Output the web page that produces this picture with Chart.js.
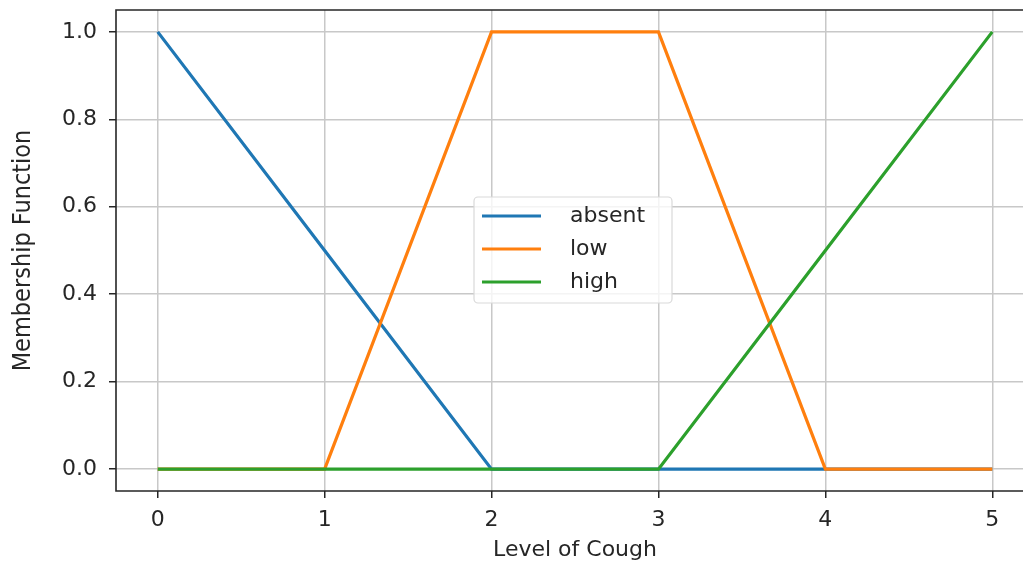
<!DOCTYPE html>
<html>
<head>
<meta charset="utf-8">
<script src="https://cdn.jsdelivr.net/npm/chart.js@4/dist/chart.umd.min.js"></script>
<style>
  html, body { margin: 0; padding: 0; background: #fff; overflow: hidden; }
  #wrap { width: 1060px; height: 563px; }
</style>
</head>
<body>
<div id="wrap"><canvas id="chart_area" width="1060" height="563"></canvas></div>
<script>
// values
const xValues = [0, 1, 2, 3, 4, 5];
const absent = [1, 0.5, 0, 0, 0, 0];
const low = [0, 0, 1, 1, 0, 0];
const high = [0, 0, 0, 0, 0.5, 1];
const xTicks = [0, 1, 2, 3, 4, 5];
const yTicks = [0, 0.2, 0.4, 0.6, 0.8, 1.0];
const seriesNames = ['absent', 'low', 'high'];
const seriesColors = ['#1f77b4', '#ff7f0e', '#2ca02c'];

const toPoints = ys => xValues.map((x, i) => ({ x: x, y: ys[i] }));

// spines (right one is off the picture) + legend in the middle
const framePlugin = {
  id: 'frame',
  afterDraw(chart) {
    const { ctx, chartArea: a } = chart;
    ctx.save();
    ctx.strokeStyle = '#262626';
    ctx.lineWidth = 1.6;
    ctx.beginPath();
    ctx.moveTo(chart.width, a.top);
    ctx.lineTo(a.left, a.top);
    ctx.lineTo(a.left, a.bottom);
    ctx.lineTo(chart.width, a.bottom);
    ctx.stroke();

    // legend
    const bx = 474, by = 197, bw = 198, bh = 106;
    ctx.fillStyle = 'rgba(255,255,255,0.8)';
    ctx.strokeStyle = '#d9d9d9';
    ctx.lineWidth = 1.2;
    ctx.beginPath();
    ctx.roundRect(bx, by, bw, bh, 4);
    ctx.fill();
    ctx.stroke();
    ctx.font = '22px "DejaVu Sans"';
    ctx.textBaseline = 'middle';
    seriesNames.forEach((name, i) => {
      const y = 216 + i * 33;
      ctx.strokeStyle = seriesColors[i];
      ctx.lineWidth = 3;
      ctx.beginPath();
      ctx.moveTo(482, y);
      ctx.lineTo(541, y);
      ctx.stroke();
      ctx.fillStyle = '#262626';
      ctx.fillText(name, 570, y);
    });
    ctx.restore();
  }
};

const ctx = document.getElementById('chart_area').getContext('2d');
const myChart = new Chart(ctx, {
  type: 'line',
  data: {
    datasets: seriesNames.map((name, i) => ({
      label: name,
      data: toPoints([absent, low, high][i]),
      borderColor: seriesColors[i],
      borderWidth: 3.2,
      pointRadius: 0,
      tension: 0,
      fill: false,
      order: 2 - i
    }))
  },
  options: {
    responsive: false,
    animation: false,
    layout: { padding: { left: 0, top: 10, right: 26, bottom: 0 } },
    plugins: {
      legend: { display: false },
      tooltip: { enabled: false }
    },
    scales: {
      x: {
        type: 'linear',
        min: -0.25,
        max: 5.25,
        afterBuildTicks: axis => { axis.ticks = xTicks.map(v => ({ value: v })); },
        afterFit: axis => {
          axis.height = 72;
          axis.paddingLeft = 0;
          axis.paddingRight = 0;
        },
        ticks: {
          color: '#262626',
          font: { family: 'DejaVu Sans', size: 22 },
          padding: 9,
          callback: v => String(v)
        },
        grid: { color: '#c8c8c8', lineWidth: 1.5, tickColor: '#262626', tickLength: 7, tickWidth: 1.5 },
        border: { display: false },
        title: {
          display: true,
          text: 'Level of Cough',
          color: '#262626',
          font: { family: 'DejaVu Sans', size: 22 },
          padding: { top: 0, bottom: 0 }
        }
      },
      y: {
        type: 'linear',
        min: -0.05,
        max: 1.05,
        afterBuildTicks: axis => { axis.ticks = yTicks.map(v => ({ value: v })); },
        afterFit: axis => {
          axis.width = 116;
          axis.paddingTop = 0;
          axis.paddingBottom = 0;
        },
        ticks: {
          color: '#262626',
          font: { family: 'DejaVu Sans', size: 22 },
          padding: 12,
          callback: v => Number(v).toFixed(1)
        },
        grid: { color: '#c8c8c8', lineWidth: 1.5, tickColor: '#262626', tickLength: 7, tickWidth: 1.5 },
        border: { display: false },
        title: {
          display: true,
          text: 'Membership Function',
          color: '#262626',
          font: { family: 'DejaVu Sans Condensed', size: 25 },
          padding: { top: 8, bottom: 0 }
        }
      }
    }
  },
  plugins: [framePlugin]
});
</script>
</body>
</html>
